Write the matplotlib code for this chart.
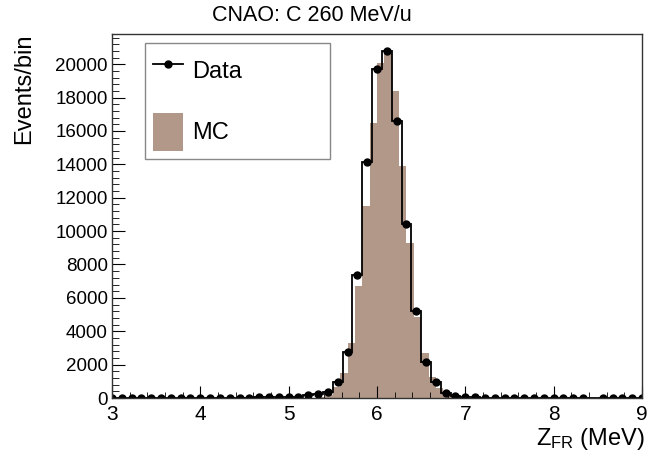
import numpy as np
import matplotlib
matplotlib.use("Agg")
import matplotlib.pyplot as plt
from matplotlib.lines import Line2D
from matplotlib.patches import Patch
from matplotlib.ticker import MultipleLocator

plt.rcParams['font.family'] = ['Liberation Sans', 'DejaVu Sans']
plt.rcParams['mathtext.fontset'] = 'custom'
plt.rcParams['mathtext.rm'] = 'Liberation Sans'
plt.rcParams['mathtext.it'] = 'Liberation Sans'

# histogram ranges (MeV)
x_min, x_max = 3.0, 9.0
data_bin_width = 1.0 / 9
mc_bin_width = 1.0 / 12

# data counts, bins centred on 3, 3+1/9, ..., 9
data_counts = [
    20, 15, 18, 12, 20, 16, 22, 18, 25, 20, 24, 22, 28, 30, 26, 35, 40, 45,
    55, 80, 180, 220, 380, 980, 2780, 7390, 14150, 19740, 20800, 16600,
    10450, 5240, 2180, 980, 280, 120, 60,
    40, 30, 28, 22, 25, 18, 20, 15, 18, 14, 16, 12, 0, 14, 12, 10, 12, 15,
]

# MC counts, bins of 1/12 MeV from 3 to 9
mc_counts = [0] * 27 + [
    20, 60, 200, 650, 1500, 3300, 6690, 11490, 16500, 20100, 20700,
    18400, 13930, 9290, 4880, 2680, 1280, 580, 250, 100, 40, 10,
] + [0] * 23

title = "CNAO: C 260 MeV/u"
xlabel = r"$\mathregular{Z_{FR}}$ (MeV)"
ylabel = "Events/bin"
mc_color = "#b29889"

data = np.array(data_counts, dtype=float)
mc = np.array(mc_counts, dtype=float)
data_edges = np.linspace(x_min - data_bin_width / 2, x_max + data_bin_width / 2, len(data) + 1)
data_centers = 0.5 * (data_edges[:-1] + data_edges[1:])
mc_edges = np.linspace(x_min, x_max, len(mc) + 1)

fig = plt.figure(figsize=(6.48, 4.54), dpi=100)
ax = fig.add_axes([0.1728, 0.1233, 0.8179, 0.8029])

ax.stairs(mc, mc_edges, fill=True, color=mc_color, lw=0)
ax.stairs(data, data_edges, color="black", lw=1.3)
nz = data > 0
ax.plot(data_centers[nz], data[nz], "o", color="black", ms=5)

ax.set_xlim(x_min, x_max)
ax.set_ylim(0, 1.05 * data.max())

ax.xaxis.set_major_locator(MultipleLocator(1))
ax.xaxis.set_minor_locator(MultipleLocator(0.2))
ax.yaxis.set_major_locator(MultipleLocator(2000))
ax.yaxis.set_minor_locator(MultipleLocator(400))
ax.tick_params(which="both", direction="in", top=False, right=False)
ax.tick_params(axis="x", which="major", length=8.5, labelsize=15, pad=5)
ax.tick_params(axis="x", which="minor", length=4.3)
ax.tick_params(axis="y", which="major", length=9.5, labelsize=13.5, pad=3)
ax.tick_params(axis="y", which="minor", length=5)
for sp in ax.spines.values():
    sp.set_linewidth(1)
    sp.set_color("#333333")

fig.text(0.482, 0.966, title, ha="center", va="center", fontsize=15.5)
fig.text(0.995, 0.033, xlabel, ha="right", va="center", fontsize=17)
fig.text(0.038, 0.926, ylabel, ha="center", va="top", rotation=90, fontsize=17)

handles = [
    Line2D([], [], color="black", lw=1.3, marker="o", ms=5),
    Patch(facecolor=mc_color, edgecolor="none"),
]
leg = ax.legend(handles, ["Data", "MC"], loc="upper left",
                bbox_to_anchor=(0.062, 0.974, 0.349, 0.0), mode="expand",
                fontsize=17, frameon=True, fancybox=False, framealpha=1,
                edgecolor="#888888", borderpad=0.35, labelspacing=1.0,
                handlelength=1.25, handleheight=2.1, handletextpad=0.4,
                borderaxespad=0)
leg.get_frame().set_linewidth(1)

fig.savefig("out.png", dpi=100)
